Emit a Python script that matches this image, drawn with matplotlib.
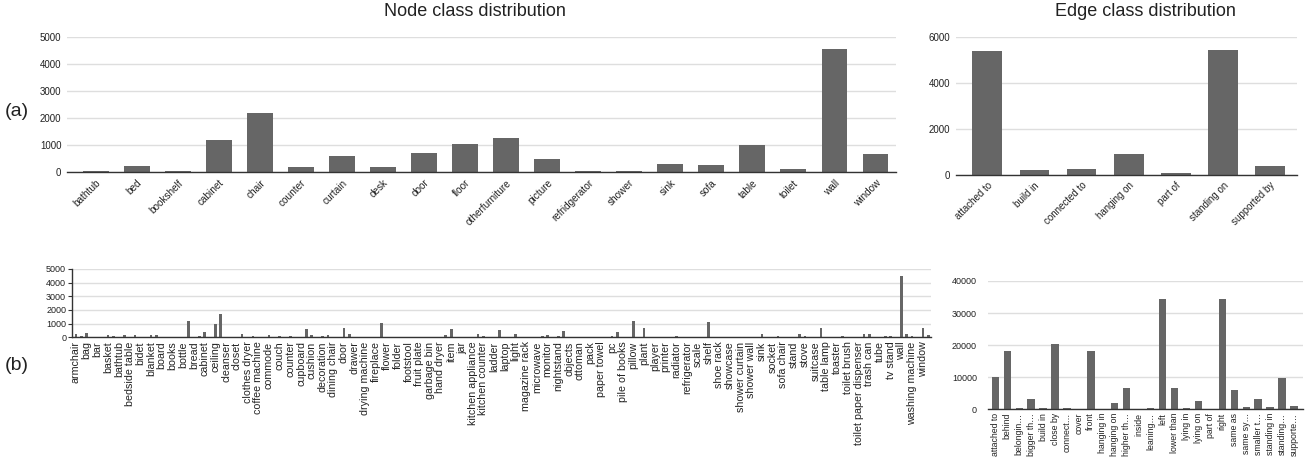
import matplotlib
matplotlib.use("Agg")
import matplotlib.pyplot as plt
import numpy as np

plt.rcParams['font.family'] = ['Liberation Sans', 'DejaVu Sans']

# ---------------- data ----------------
node_top_classes = ["bathtub", "bed", "bookshelf", "cabinet", "chair", "counter", "curtain",
                    "desk", "door", "floor", "otherfurniture", "picture", "refridgerator",
                    "shower", "sink", "sofa", "table", "toilet", "wall", "window"]
node_top_counts = [65, 220, 40, 1190, 2190, 210, 605, 210, 700, 1065, 1285, 482, 62,
                   40, 296, 272, 1000, 111, 4570, 692]

edge_top_classes = ["attached to", "build in", "connected to", "hanging on", "part of",
                    "standing on", "supported by"]
edge_top_counts = [5390, 218, 248, 888, 73, 5430, 393]

node_all_classes = [
    "armchair", "backpack", "bag", "ball", "bar", "basin", "basket", "bath cabinet",
    "bathtub", "bed", "bedside table", "bench", "bidet", "bin", "blanket", "blinds",
    "board", "book", "books", "bookshelf", "bottle", "box", "bread", "bucket",
    "cabinet", "carpet", "ceiling", "chair", "cleanser", "clock", "closet", "clothes",
    "clothes dryer", "clothes rack", "coffee machine", "coffee table", "commode",
    "computer desk", "couch", "couch table", "counter", "cup", "cupboard", "curtain",
    "cushion", "cutting board", "decoration", "desk", "dining chair", "dining table",
    "door", "doorframe", "drawer", "drum", "drying machine", "extractor fan",
    "fireplace", "floor", "flower", "flowers", "folder", "food", "footstool", "frame",
    "fruit plate", "garbage", "garbage bin", "guitar", "hand dryer", "heater", "item",
    "jacket", "jar", "kettle", "kitchen appliance", "kitchen cabinet", "kitchen counter",
    "kitchen hood", "ladder", "lamp", "laptop", "laundry basket", "light", "machine",
    "magazine rack", "mat", "microwave", "mirror", "monitor", "mouse", "nightstand",
    "object", "objects", "organizer", "ottoman", "oven", "pack", "pan", "paper towel",
    "papers", "pc", "picture", "pile of books", "pile of papers", "pillow", "pipe",
    "plant", "plate", "player", "pot", "printer", "puf", "radiator", "recycle bin",
    "refrigerator", "rocking chair", "scale", "screen", "shelf", "shelves", "shoe rack",
    "shoes", "showcase", "shower", "shower curtain", "shower floor", "shower wall",
    "side table", "sink", "soap dish", "socket", "sofa", "sofa chair", "stair", "stand",
    "stool", "stove", "stuffed animal", "suitcase", "table", "table lamp", "telephone",
    "toaster", "toilet", "toilet brush", "toilet paper", "toilet paper dispenser",
    "towel", "trash can", "tray", "tube", "tv", "tv stand", "vase", "wall", "wardrobe",
    "washing machine", "washing powder", "window", "windowsill"]
node_all_counts = [
    260, 80, 350, 0, 0, 0, 200, 70,
    0, 200, 0, 150, 0, 0, 200, 150,
    0, 0, 0, 0, 0, 1200, 0, 70,
    400, 0, 950, 1730, 0, 0, 0, 250,
    0, 60, 0, 50, 200,
    0, 60, 0, 60, 0, 0, 600,
    150, 0, 60, 200, 0, 0,
    650, 220, 0, 0, 0, 0,
    0, 1080, 0, 0, 0, 0, 0, 50,
    0, 0, 0, 0, 0, 180, 590,
    0, 0, 0, 50, 250, 70,
    0, 0, 550, 0, 0, 250, 0,
    0, 0, 0, 60, 180, 0, 130,
    460, 0, 0, 0, 0, 0, 0, 0,
    0, 60, 400, 0, 0, 1200, 0,
    660, 0, 0, 0, 0, 50, 100, 0,
    0, 0, 0, 0, 1130, 0, 0,
    50, 0, 0, 0, 0, 0,
    0, 250, 0, 0, 130, 0, 0, 50,
    220, 100, 0, 0, 660, 0, 0,
    0, 60, 0, 0, 0,
    250, 220, 0, 0, 130, 60, 0, 4500, 220,
    60, 0, 660, 200]

edge_all_labels = ["attached to", "behind", "belongin…", "bigger th…", "build in",
                   "close by", "connect…", "cover", "front", "hanging in", "hanging on",
                   "higher th…", "inside", "leaning…", "left", "lower than", "lying in",
                   "lying on", "part of", "right", "same as", "same sy…", "smaller t…",
                   "standing in", "standing…", "supporte…"]
edge_all_counts = [10000, 18300, 400, 3200, 400, 20500, 400, 50, 18300, 30, 2000,
                   6700, 30, 300, 34400, 6700, 300, 2600, 30, 34400, 6000, 600,
                   3200, 600, 9700, 1000]

# ---------------- style ----------------
BAR = '#666666'
GRID = '#dedede'
BASE = '#333333'
TXT = '#222222'

W, H = 1310, 459
fig = plt.figure(figsize=(W / 100, H / 100), dpi=100)


def axes_px(l, t, r, b):
    return fig.add_axes([l / W, 1 - b / H, (r - l) / W, (b - t) / H])


def style(ax, ylim, yticks, yfs, ypad, left_axis=False):
    ax.set_ylim(*ylim)
    ax.set_yticks(yticks)
    ax.yaxis.grid(True, color=GRID, lw=1.0)
    ax.set_axisbelow(True)
    for s in ['top', 'right']:
        ax.spines[s].set_visible(False)
    ax.spines['left'].set_visible(left_axis)
    ax.spines['left'].set_color(BASE)
    ax.spines['left'].set_linewidth(1.0)
    ax.spines['bottom'].set_color(BASE)
    ax.spines['bottom'].set_linewidth(1.0)
    ax.tick_params(axis='y', labelsize=yfs, colors=TXT, pad=ypad,
                   length=3 if left_axis else 0, color=BASE)
    ax.tick_params(axis='x', length=0, colors=TXT)


# (a) node classes
ax1 = axes_px(67, 37.3, 896, 172.3)
x1 = np.arange(len(node_top_classes))
ax1.bar(x1, node_top_counts, width=0.63, color=BAR)
ax1.set_xlim(-0.7, len(x1) - 0.5)
style(ax1, (0, 5000), [0, 1000, 2000, 3000, 4000, 5000], 7, 4)
ax1.set_xticks(x1)
ax1.set_xticklabels(node_top_classes, rotation=45, ha='right', rotation_mode='anchor',
                    fontsize=7.2, color=TXT)
ax1.tick_params(axis='x', pad=4)

# (a) edge classes
ax2 = axes_px(955.7, 37.3, 1297, 174.7)
x2 = np.arange(len(edge_top_classes))
ax2.bar(x2, edge_top_counts, width=0.63, color=BAR)
ax2.set_xlim(-0.67, len(x2) - 0.43)
style(ax2, (0, 6000), [0, 2000, 4000, 6000], 7, 4)
ax2.set_xticks(x2)
ax2.set_xticklabels(edge_top_classes, rotation=45, ha='right', rotation_mode='anchor',
                    fontsize=7, color=TXT)
ax2.tick_params(axis='x', pad=4)

# (b) node classes
ax3 = axes_px(71.7, 269, 931, 337.3)
x3 = np.arange(len(node_all_classes))
ax3.bar(x3, node_all_counts, width=0.5, color=BAR)
ax3.set_xlim(-0.8, len(x3) - 0.48)
style(ax3, (0, 5000), [0, 1000, 2000, 3000, 4000, 5000], 6.5, 1, left_axis=True)
ax3.set_xticks(x3[::2])
ax3.set_xticklabels(node_all_classes[::2], rotation=90, ha='center', va='top',
                    fontsize=7.7, color=TXT)
ax3.tick_params(axis='x', pad=3)

# (b) edge classes
ax4 = axes_px(988, 281, 1302.7, 409.3)
x4 = np.arange(len(edge_all_labels))
ax4.bar(x4, edge_all_counts, width=0.61, color=BAR)
ax4.set_xlim(-0.61, len(x4) - 0.27)
style(ax4, (0, 40000), [0, 10000, 20000, 30000, 40000], 6.5, 8)
ax4.set_xticks(x4)
ax4.set_xticklabels(edge_all_labels, rotation=90, ha='center', va='top',
                    fontsize=6.3, color=TXT)
ax4.tick_params(axis='x', pad=2.5)

# titles and panel letters
fig.text(475 / W, 1 - 12 / H, "Node class distribution", ha='center', va='center',
         fontsize=13, color=TXT)
fig.text(1145 / W, 1 - 12 / H, "Edge class distribution", ha='center', va='center',
         fontsize=13, color=TXT)
fig.text(17 / W, 1 - 112 / H, "(a)", ha='center', va='center', fontsize=14, color=TXT)
fig.text(17 / W, 1 - 366 / H, "(b)", ha='center', va='center', fontsize=14, color=TXT)

fig.savefig("out.png", dpi=100, facecolor='white')
